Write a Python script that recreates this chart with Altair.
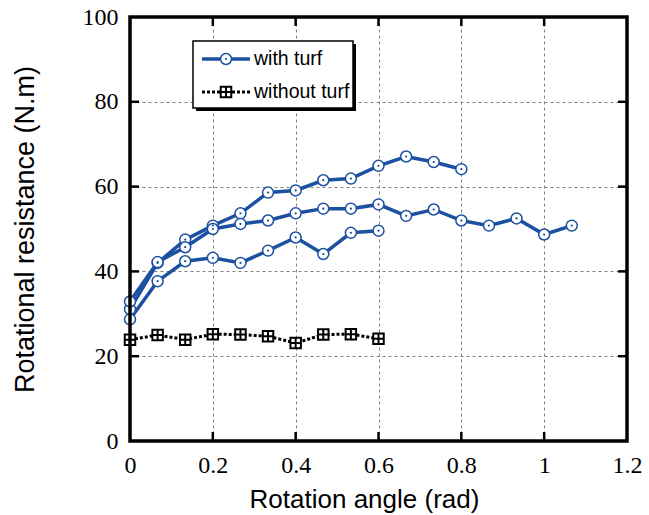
import altair as alt
import pandas as pd

# ---- data ----
angle = [0, 0.0667, 0.1333, 0.2, 0.2667, 0.3333, 0.4, 0.4667, 0.5333, 0.6,
         0.6667, 0.7333, 0.8, 0.8667, 0.9333, 1.0, 1.0667]
turf_a = [31.1, 42.0, 47.5, 50.8, 53.7, 58.6, 59.1, 61.5, 61.9, 64.9, 67.1, 65.8, 64.1]
turf_b = [32.9, 42.2, 45.7, 50.0, 51.2, 52.0, 53.7, 54.8, 54.8, 55.8, 53.1, 54.6, 52.0,
          50.8, 52.5, 48.7, 50.8]
turf_c = [28.7, 37.7, 42.4, 43.2, 42.0, 44.9, 48.0, 44.1, 49.1, 49.6]
no_turf = [23.9, 25.0, 23.9, 25.2, 25.1, 24.7, 23.1, 25.1, 25.2, 24.1]

x_ticks = [0, 0.2, 0.4, 0.6, 0.8, 1.0, 1.2]
y_ticks = [0, 20, 40, 60, 80, 100]

rows = []
for name, vals in [("A", turf_a), ("B", turf_b), ("C", turf_c)]:
    for xv, yv in zip(angle, vals):
        rows.append({"angle": xv, "res": yv, "test": name})
turf = pd.DataFrame(rows)
bare = pd.DataFrame({"angle": angle[:len(no_turf)], "res": no_turf})

W, H = 497, 424
BLUE = "#1c50a0"
SQ = "M-1,-1H1V1H-1Z M0,-1V1 M-1,0H1"
SERIF = "'Liberation Serif', 'Times New Roman', serif"
SANS = "'Liberation Sans', Arial, sans-serif"

xs = alt.Scale(domain=[0, 1.2], nice=False, zero=False)
ys = alt.Scale(domain=[0, 100], nice=False)

x_enc = alt.X("angle:Q", scale=xs, axis=alt.Axis(
    values=x_ticks, format="~g", title="Rotation angle (rad)",
    grid=True, gridDash=[3, 3], gridColor="#808080", gridWidth=1,
    ticks=False, domain=False, labelFlush=False, labelOverlap=False,
    labelFont=SERIF, labelFontSize=24, labelColor="black", labelPadding=12,
    titleFont=SANS, titleFontSize=26, titleFontWeight="normal",
    titleColor="black", titlePadding=9, titleX=234, titleAlign="center"))
y_enc = alt.Y("res:Q", scale=ys, axis=alt.Axis(
    values=y_ticks, title="Rotational resistance (N.m)",
    grid=True, gridDash=[3, 3], gridColor="#808080", gridWidth=1,
    ticks=False, domain=False, labelFlush=False, labelOverlap=False,
    labelFont=SERIF, labelFontSize=24, labelColor="black", labelPadding=12,
    titleFont=SANS, titleFontSize=27, titleFontWeight="normal",
    titleColor="black", titlePadding=43))

turf_line = alt.Chart(turf).mark_line(color=BLUE, strokeWidth=3.5).encode(
    x=x_enc, y=y_enc, detail="test:N", order="angle:Q")
turf_pts = alt.Chart(turf).mark_point(shape="circle", size=120, filled=True, fill="white",
                                      stroke=BLUE, strokeWidth=1.5, opacity=1).encode(x=x_enc, y=y_enc)
turf_dots = alt.Chart(turf).mark_point(shape="circle", size=5, filled=True, color=BLUE,
                                       opacity=1).encode(x=x_enc, y=y_enc)

bare_line = alt.Chart(bare).mark_line(color="black", strokeWidth=3, strokeDash=[3, 2]).encode(
    x=x_enc, y=y_enc, order="angle:Q")
bare_pts = alt.Chart(bare).mark_point(shape=SQ, size=110, filled=True, fill="white",
                                      stroke="black", strokeWidth=2, opacity=1).encode(x=x_enc, y=y_enc)

# inward ticks
yt = pd.DataFrame({"res": [20, 40, 60, 80]})
xt = pd.DataFrame({"angle": [0.2, 0.4, 0.6, 0.8, 1.0]})
tick_l = alt.Chart(yt).mark_rule(color="black", strokeWidth=2.5).encode(
    y=y_enc, x=alt.value(0), x2=alt.value(9))
tick_r = alt.Chart(yt).mark_rule(color="black", strokeWidth=2.5).encode(
    y=y_enc, x=alt.value(W - 9), x2=alt.value(W))
tick_b = alt.Chart(xt).mark_rule(color="black", strokeWidth=2.5).encode(
    x=x_enc, y=alt.value(H - 9), y2=alt.value(H))
tick_t = alt.Chart(xt).mark_rule(color="black", strokeWidth=2.5).encode(
    x=x_enc, y=alt.value(0), y2=alt.value(9))

one = pd.DataFrame({"k": [0]})
frame = alt.Chart(one).mark_rect(fill=None, stroke="black", strokeWidth=3.5).encode(
    x=alt.value(0), x2=alt.value(W), y=alt.value(0), y2=alt.value(H))

# legend
leg_shadow = alt.Chart(one).mark_rect(fill="black").encode(
    x=alt.value(66), x2=alt.value(226), y=alt.value(27), y2=alt.value(94))
leg_box = alt.Chart(one).mark_rect(fill="white", stroke="black", strokeWidth=1.5).encode(
    x=alt.value(63), x2=alt.value(223), y=alt.value(24), y2=alt.value(91))
leg_l1 = alt.Chart(one).mark_rule(color=BLUE, strokeWidth=3.5).encode(
    x=alt.value(72), x2=alt.value(120), y=alt.value(42))
leg_p1 = alt.Chart(one).mark_point(shape="circle", size=120, filled=True, fill="white",
                                   stroke=BLUE, strokeWidth=1.5, opacity=1).encode(
    x=alt.value(96), y=alt.value(42))
leg_d1 = alt.Chart(one).mark_point(shape="circle", size=5, filled=True, color=BLUE, opacity=1).encode(
    x=alt.value(96), y=alt.value(42))
leg_t1 = alt.Chart(one).mark_text(text="with turf", align="left", baseline="middle",
                                  font=SANS, fontSize=19.5, color="black").encode(
    x=alt.value(124), y=alt.value(42))
leg_l2 = alt.Chart(one).mark_rule(color="black", strokeWidth=3, strokeDash=[3, 2]).encode(
    x=alt.value(72), x2=alt.value(120), y=alt.value(75))
leg_p2 = alt.Chart(one).mark_point(shape=SQ, size=110, filled=True, fill="white",
                                   stroke="black", strokeWidth=2, opacity=1).encode(
    x=alt.value(96), y=alt.value(75))
leg_t2 = alt.Chart(one).mark_text(text="without turf", align="left", baseline="middle",
                                  font=SANS, fontSize=19.5, color="black").encode(
    x=alt.value(124), y=alt.value(75))

chart = alt.layer(
    turf_line, bare_line, turf_pts, turf_dots, bare_pts,
    tick_l, tick_r, tick_b, tick_t, frame,
    leg_shadow, leg_box, leg_l1, leg_p1, leg_d1, leg_t1, leg_l2, leg_p2, leg_t2,
).properties(
    width=W, height=H,
    autosize=alt.AutoSizeParams(type="none"),
    padding={"left": 130, "top": 17, "right": 22, "bottom": 74},
    background="white",
).configure_view(stroke=None)

chart.save("out.html", embed_options={"renderer": "svg", "actions": False})
